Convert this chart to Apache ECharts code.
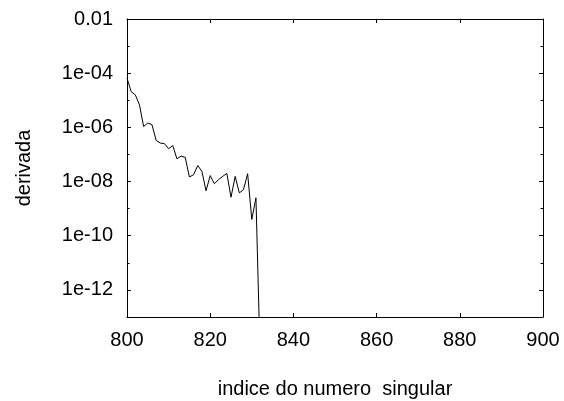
<!DOCTYPE html>
<html>
<head>
<meta charset="utf-8">
<script src="https://cdn.jsdelivr.net/npm/echarts@6/dist/echarts.min.js"></script>
<style>html,body{margin:0;padding:0;background:#fff;}#c{width:564px;height:401px;}</style>
</head>
<body>
<div id="c"></div>
<script>
// indices (x) and derivative values (y)
const xIndex = [800,801,802,803,804,805,806,807,808,809,810,811,812,813,814,815,816,817,818,819,820,821,822,823,824,825,826,827,828,829,830,831,832];
const logDeriv = [-4.18,-4.68,-4.80,-5.17,-5.97,-5.84,-5.90,-6.48,-6.58,-6.60,-6.79,-6.67,-7.16,-7.06,-7.11,-7.83,-7.75,-7.41,-7.62,-8.34,-7.78,-8.08,-7.93,-7.81,-7.70,-8.58,-7.81,-8.42,-8.30,-7.71,-9.40,-8.60,-14.5];
const derivValues = logDeriv.map(function(e){ return Math.pow(10, e); });
const xTicks = [800,820,840,860,880,900];
const yMajorValues = [1e-12,1e-10,1e-8,1e-6,1e-4,1e-2];
const yMajorLabels = ['1e-12','1e-10','1e-08','1e-06','1e-04','0.01'];
const yMinorValues = [1e-13,1e-11,1e-9,1e-7,1e-5,1e-3];

const font = 'Liberation Sans, Arial, Helvetica, sans-serif';
const fs = 20;
const chart = echarts.init(document.getElementById('c'), null, {renderer:'canvas'});
const lineStyle = {color:'#000', width:1};
function yLabel(v){
  for (let i=0;i<yMajorValues.length;i++){ if (Math.abs(Math.log10(v)-Math.log10(yMajorValues[i]))<1e-6) return yMajorLabels[i]; }
  return '';
}
chart.setOption({
  animation:false,
  backgroundColor:'#fff',
  grid:{left:127, right:21, top:19, bottom:84, containLabel:false, outerBoundsMode:'none'},
  xAxis:[{
    type:'value', min:800, max:900, interval:20, position:'bottom',
    name:'indice do numero  singular', nameLocation:'middle', nameGap:62,
    nameTextStyle:{color:'#000', fontSize:fs, fontFamily:font},
    axisLine:{show:true, lineStyle:lineStyle},
    axisTick:{show:true, inside:true, length:4, lineStyle:lineStyle},
    axisLabel:{show:true, color:'#000', fontSize:fs, fontFamily:font, margin:13},
    splitLine:{show:false}
  },{
    type:'value', min:800, max:900, interval:20, position:'top',
    axisLine:{show:true, lineStyle:lineStyle},
    axisTick:{show:true, inside:true, length:4, lineStyle:lineStyle},
    axisLabel:{show:false}, splitLine:{show:false}
  }],
  yAxis:[{
    type:'log', logBase:10, min:1e-13, max:1e-2, position:'left',
    name:'derivada', nameLocation:'middle', nameGap:93, nameRotate:90,
    nameTextStyle:{color:'#000', fontSize:fs, fontFamily:font},
    axisLine:{show:true, lineStyle:lineStyle},
    axisTick:{show:true, inside:true, length:4, lineStyle:lineStyle, customValues:yMajorValues},
    axisLabel:{show:true, color:'#000', fontSize:fs, fontFamily:font, margin:14, customValues:yMajorValues, formatter:yLabel},
    splitLine:{show:false}
  },{
    type:'log', logBase:10, min:1e-13, max:1e-2, position:'left',
    axisLine:{show:false},
    axisTick:{show:true, inside:true, length:2.5, lineStyle:lineStyle, customValues:yMinorValues},
    axisLabel:{show:false}, splitLine:{show:false}
  },{
    type:'log', logBase:10, min:1e-13, max:1e-2, position:'right',
    axisLine:{show:true, lineStyle:lineStyle},
    axisTick:{show:true, inside:true, length:4, lineStyle:lineStyle, customValues:yMajorValues},
    axisLabel:{show:false}, splitLine:{show:false}
  },{
    type:'log', logBase:10, min:1e-13, max:1e-2, position:'right',
    axisLine:{show:false},
    axisTick:{show:true, inside:true, length:2.5, lineStyle:lineStyle, customValues:yMinorValues},
    axisLabel:{show:false}, splitLine:{show:false}
  }],
  series:[{
    type:'line', xAxisIndex:0, yAxisIndex:0,
    data:xIndex.map(function(x,i){ return [x, derivValues[i]]; }),
    showSymbol:false, symbol:'none', clip:true,
    lineStyle:{color:'#000', width:1}
  }]
});
</script>
</body>
</html>
